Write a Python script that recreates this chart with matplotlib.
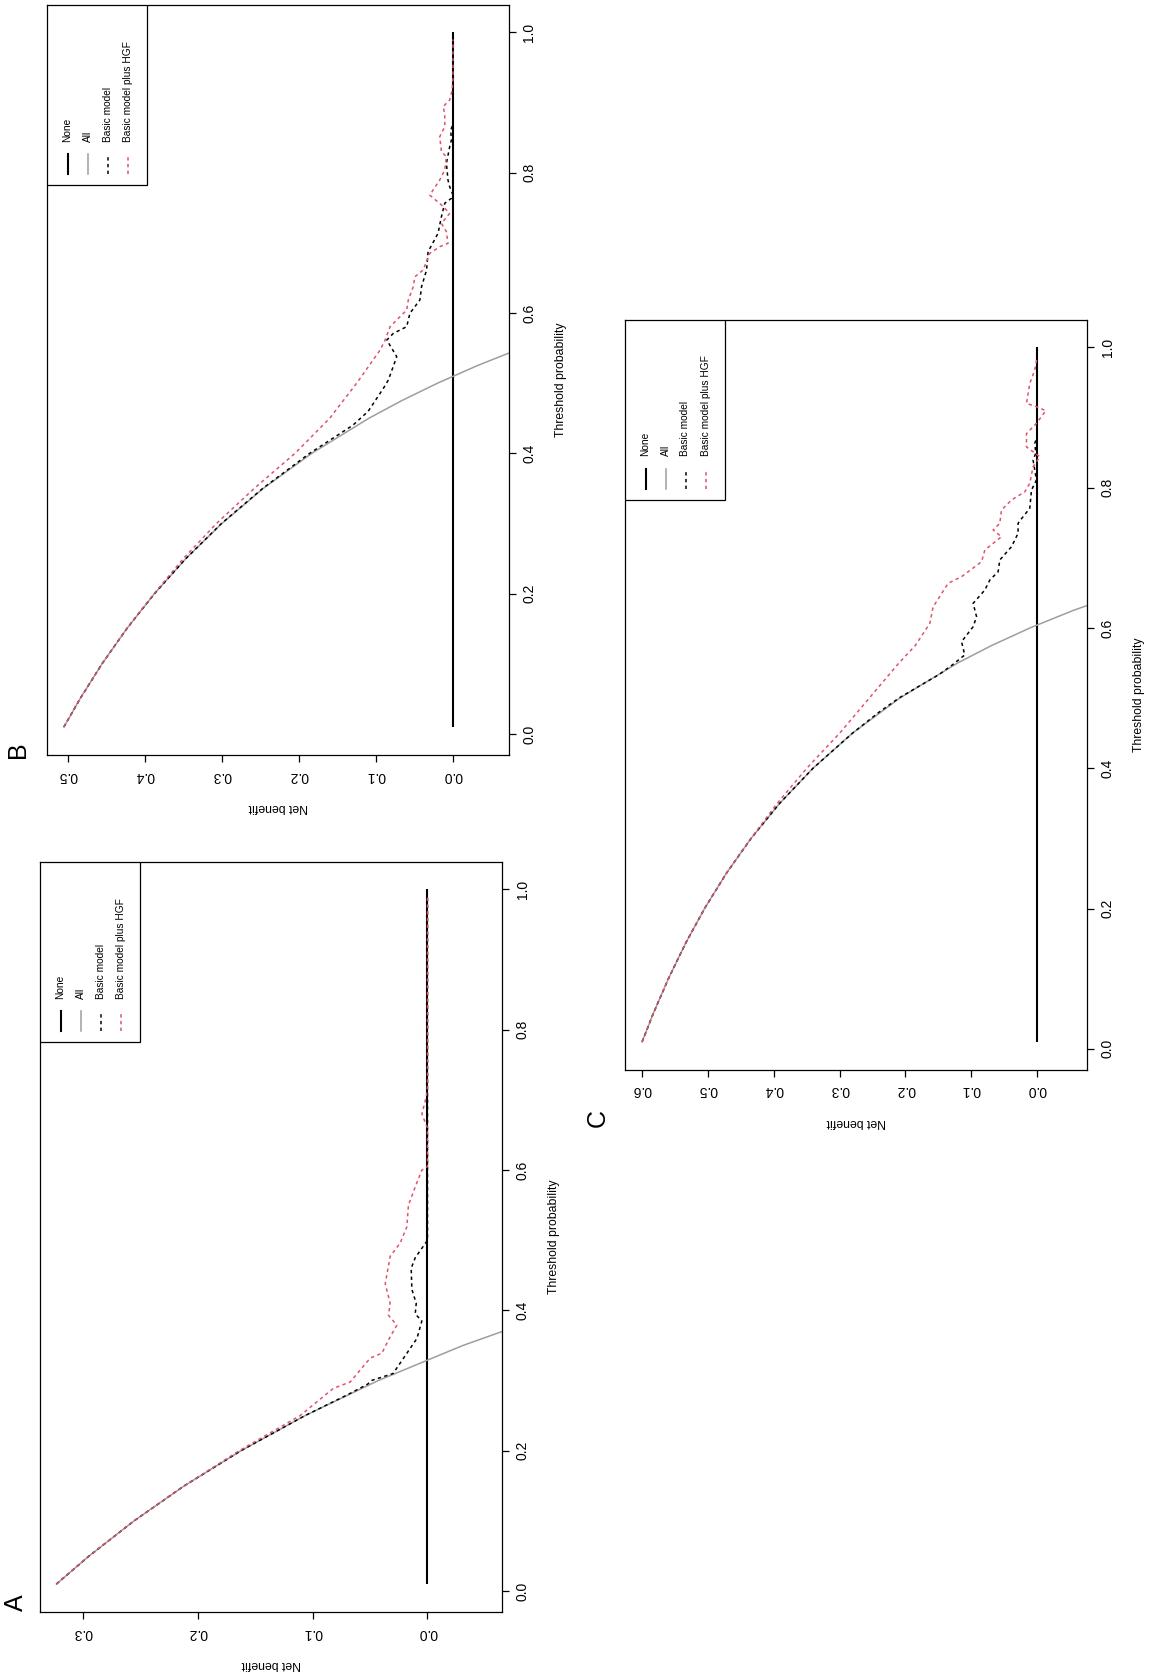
import matplotlib
matplotlib.use('Agg')
import matplotlib.pyplot as plt
from matplotlib.lines import Line2D
from matplotlib.patches import Rectangle

plt.rcParams['font.family'] = ['Liberation Sans', 'DejaVu Sans']

# ---------------- data ----------------
thr_ticks = [0.0, 0.2, 0.4, 0.6, 0.8, 1.0]
thr_labels = ['0.0', '0.2', '0.4', '0.6', '0.8', '1.0']
legend_labels = ['None', 'All', 'Basic model', 'Basic model plus HGF']

none_t = [0.01, 1.0]
none_nb = [0.0, 0.0]

# Panel A
A_nb_ticks = [0.0, 0.1, 0.2, 0.3]
A_all_t = [0.01, 0.05, 0.10, 0.15, 0.20, 0.25, 0.30, 0.35, 0.40]
A_all_nb = [0.3232, 0.2947, 0.2556, 0.2118, 0.1625, 0.1067, 0.0429, -0.0308, -0.1167]
A_basic_t = [0.01, 0.05, 0.10, 0.15, 0.20, 0.25, 0.28, 0.295, 0.30, 0.31, 0.36, 0.385, 0.395,
             0.41, 0.43, 0.46, 0.475, 0.50, 0.60, 0.70, 0.80, 0.90, 0.99]
A_basic_nb = [0.3232, 0.2947, 0.2556, 0.2118, 0.1625, 0.1067, 0.0694, 0.052, 0.049, 0.030, 0.0092,
              0.0049, 0.0107, 0.0098, 0.0136, 0.0142, 0.0107, 0.0, 0.0, 0.0, 0.0, 0.0, 0.0]
A_hgf_t = [0.01, 0.05, 0.10, 0.15, 0.20, 0.25, 0.289, 0.298, 0.332, 0.339, 0.358, 0.379, 0.393,
           0.41, 0.438, 0.477, 0.496, 0.519, 0.55, 0.576, 0.60, 0.605, 0.66, 0.68, 0.705, 0.72,
           0.80, 0.90, 0.99]
A_hgf_nb = [0.3232, 0.2947, 0.2556, 0.2118, 0.164, 0.111, 0.0819, 0.0673, 0.0499, 0.0397, 0.034,
            0.0267, 0.034, 0.0325, 0.0368, 0.0325, 0.0238, 0.018, 0.0166, 0.0107, 0.0049, 0.0,
            0.0, 0.0049, 0.001, 0.0, 0.0, 0.0, 0.0]

# Panel B
B_nb_ticks = [0.0, 0.1, 0.2, 0.3, 0.4, 0.5]
B_all_t = [0.01, 0.05, 0.10, 0.15, 0.20, 0.25, 0.30, 0.35, 0.40, 0.45, 0.475, 0.50, 0.525, 0.55]
B_all_nb = [0.5051, 0.4842, 0.4556, 0.4235, 0.3875, 0.3467, 0.3000, 0.2462, 0.1833, 0.1091,
            0.0667, 0.0200, -0.0316, -0.0889]
B_basic_t = [0.01, 0.05, 0.10, 0.15, 0.20, 0.25, 0.30, 0.35, 0.40, 0.42, 0.44, 0.46, 0.4927,
             0.5045, 0.5377, 0.5615, 0.571, 0.5805, 0.5996, 0.6185, 0.6375, 0.6613, 0.6874,
             0.7136, 0.7373, 0.7564, 0.7635, 0.7683, 0.78, 0.7896, 0.8134, 0.837, 0.8466, 0.86,
             0.87, 0.90, 0.95, 0.99]
B_basic_nb = [0.5051, 0.4842, 0.4556, 0.4235, 0.3875, 0.3467, 0.3005, 0.247, 0.186, 0.158, 0.13,
              0.11, 0.0903, 0.0839, 0.073, 0.0859, 0.0774, 0.0601, 0.0559, 0.043, 0.0408, 0.0343,
              0.0323, 0.0194, 0.015, 0.0107, 0.002, 0.0, 0.0043, 0.0065, 0.0085, 0.0043, 0.002,
              0.003, 0.0, 0.0, 0.0, 0.0]
B_hgf_t = [0.01, 0.05, 0.10, 0.15, 0.20, 0.25, 0.30, 0.35, 0.40, 0.45, 0.50, 0.5472, 0.5615,
           0.5805, 0.5947, 0.6043, 0.6185, 0.6375, 0.6517, 0.6613, 0.6851, 0.6945, 0.6993, 0.7159,
           0.7278, 0.742, 0.754, 0.768, 0.7753, 0.7896, 0.8039, 0.8228, 0.83, 0.8513, 0.8656,
           0.8846, 0.894, 0.9036, 0.918, 0.9356, 0.99]
B_hgf_nb = [0.5051, 0.4842, 0.4556, 0.4235, 0.388, 0.35, 0.307, 0.258, 0.205, 0.16, 0.125, 0.0946,
            0.0881, 0.0817, 0.0688, 0.0601, 0.058, 0.0516, 0.0494, 0.0387, 0.0301, 0.0172, 0.0065,
            0.0085, 0.015, 0.0043, 0.015, 0.0301, 0.0258, 0.0172, 0.0107, 0.0085, 0.015, 0.0172,
            0.0107, 0.0107, 0.0129, 0.0043, 0.001, 0.0, 0.0]

# Panel C
C_nb_ticks = [0.0, 0.1, 0.2, 0.3, 0.4, 0.5, 0.6]
C_all_t = [0.01, 0.05, 0.10, 0.15, 0.20, 0.25, 0.30, 0.35, 0.40, 0.45, 0.50, 0.55, 0.575, 0.60,
           0.625, 0.65]
C_all_nb = [0.6003, 0.5835, 0.5603, 0.5345, 0.5054, 0.4724, 0.4347, 0.3912, 0.3405, 0.2805,
            0.2086, 0.1207, 0.0689, 0.0107, -0.0552, -0.1306]
C_basic_t = [0.01, 0.05, 0.10, 0.15, 0.20, 0.25, 0.30, 0.35, 0.40, 0.45, 0.48, 0.50, 0.521,
             0.5329, 0.5471, 0.5614, 0.5803, 0.6017, 0.616, 0.635, 0.654, 0.6683, 0.6801, 0.6968,
             0.7157, 0.7348, 0.7491, 0.7585, 0.7705, 0.7966, 0.8108, 0.8393, 0.849, 0.863, 0.873,
             0.90, 0.95, 0.99]
C_basic_nb = [0.6003, 0.5835, 0.5603, 0.5345, 0.5054, 0.4724, 0.4347, 0.3912, 0.3405, 0.2805,
              0.24, 0.21, 0.172, 0.150, 0.129, 0.110, 0.1148, 0.0972, 0.092, 0.0972, 0.0794,
              0.0718, 0.0592, 0.0567, 0.0389, 0.0289, 0.0289, 0.0213, 0.0111, 0.0085, 0.001,
              0.0061, 0.002, 0.0035, 0.0, 0.0, 0.0, 0.0]
C_hgf_t = [0.01, 0.05, 0.10, 0.15, 0.20, 0.25, 0.30, 0.35, 0.40, 0.45, 0.50, 0.55, 0.575, 0.6065,
           0.630, 0.6636, 0.673, 0.6944, 0.711, 0.730, 0.7396, 0.749, 0.768, 0.7823, 0.794, 0.806,
           0.8298, 0.844, 0.858, 0.877, 0.8916, 0.9096, 0.9153, 0.920, 0.9487, 0.9676, 0.986]
C_hgf_nb = [0.6003, 0.5835, 0.5603, 0.5345, 0.5054, 0.4724, 0.4347, 0.395, 0.35, 0.30, 0.255,
            0.21, 0.185, 0.163, 0.158, 0.1352, 0.1148, 0.0844, 0.0794, 0.0541, 0.0668, 0.0567,
            0.0541, 0.0389, 0.0187, 0.0111, 0.0061, -0.0041, 0.0161, 0.0161, 0.001, -0.0132,
            0.001, 0.0161, 0.0111, 0.0035, 0.0]

# ---------------- styling / layout ----------------
W, H = 1150, 1675
RED = '#DF536B'
GRAY = '#9E9E9E'
DASH = (0, (2.2, 2.2))
THR_LIM = (-0.0296, 1.0396)

fig = plt.figure(figsize=(W / 100, H / 100), dpi=100)


def panel(box, nb_lim, nb_ticks, letter, letter_xy, all_t, all_nb, b_t, b_nb, h_t, h_nb):
    x0, x1, y0, y1 = box
    ax = fig.add_axes([x0 / W, 1 - y1 / H, (x1 - x0) / W, (y1 - y0) / H])
    ax.plot(none_nb, none_t, color='black', lw=1.5, solid_capstyle='butt')
    ax.plot(all_nb, all_t, color=GRAY, lw=1.1)
    ax.plot(b_nb, b_t, color='black', lw=1.1, linestyle=DASH)
    ax.plot(h_nb, h_t, color=RED, lw=1.1, linestyle=DASH)
    ax.set_xlim(nb_lim)
    ax.set_ylim(THR_LIM)
    ax.yaxis.tick_right()
    ax.set_yticks(thr_ticks)
    ax.set_yticklabels(thr_labels, rotation=90, va='center')
    ax.set_xticks(nb_ticks)
    ax.set_xticklabels(['%.1f' % v for v in nb_ticks], rotation=180)
    ax.tick_params(length=5, width=0.9, pad=5, labelsize=10)
    for s in ax.spines.values():
        s.set_linewidth(0.9)
    bw, bh = x1 - x0, y1 - y0
    # axis titles
    fig.text((x0 + x1) / 2 / W, 1 - (y1 + 52) / H, 'Net benefit', rotation=180,
             ha='center', va='center', fontsize=8.8)
    fig.text((x1 + 52) / W, 1 - (y0 + y1) / 2 / H, 'Threshold probability', rotation=90,
             ha='center', va='center', fontsize=8.8)
    fig.text(letter_xy[0] / W, 1 - letter_xy[1] / H, letter, rotation=90,
             ha='center', va='center', fontsize=18)
    # legend (rotated), anchored at top-left corner of axes
    lw_px, lh_px = 100, 180
    ax.add_patch(Rectangle((0, 1 - lh_px / bh), lw_px / bw, lh_px / bh, transform=ax.transAxes,
                           facecolor='white', edgecolor='black', lw=0.9, zorder=5))
    styles = [dict(color='black', lw=1.5), dict(color=GRAY, lw=1.1),
              dict(color='black', lw=1.1, linestyle=DASH), dict(color=RED, lw=1.1, linestyle=DASH)]
    offs = [20.5, 40.8, 60.5, 80.8]
    ybot = 1 - lh_px / bh
    for off, st, lab in zip(offs, styles, legend_labels):
        xa = off / bw
        ax.add_line(Line2D([xa, xa], [ybot + 11 / bh, ybot + 31 / bh], transform=ax.transAxes,
                           zorder=6, **st))
        ax.text(xa, ybot + 43 / bh, lab, rotation=90, rotation_mode='anchor', ha='left',
                va='center', fontsize=7.3, transform=ax.transAxes, zorder=6)
    return ax


panel((40, 502, 861.7, 1611.8), (0.3375, -0.0649), A_nb_ticks, 'A', (16, 1603),
      A_all_t, A_all_nb, A_basic_t, A_basic_nb, A_hgf_t, A_hgf_nb)
panel((47.1, 508.6, 4.6, 754.7), (0.5269, -0.0722), B_nb_ticks, 'B', (17.8, 750),
      B_all_t, B_all_nb, B_basic_t, B_basic_nb, B_hgf_t, B_hgf_nb)
panel((625, 1087.1, 319.5, 1069.6), (0.6263, -0.076), C_nb_ticks, 'C', (597.5, 1118),
      C_all_t, C_all_nb, C_basic_t, C_basic_nb, C_hgf_t, C_hgf_nb)

fig.savefig('out.png', dpi=100, facecolor='white')
